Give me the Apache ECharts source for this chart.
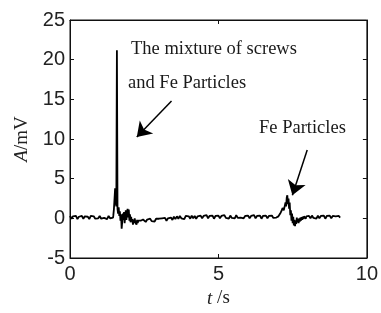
<!DOCTYPE html>
<html>
<head>
<meta charset="utf-8">
<script src="https://cdn.jsdelivr.net/npm/echarts@6/dist/echarts.min.js"></script>
<style>
  html, body { margin: 0; padding: 0; background: #fff; }
  #main { width: 381px; height: 313px; }
</style>
</head>
<body>
<div id="main"></div>
<script>
// 信号分段：起始时间(s)、采样间隔(s)、幅值(mV)
var quiet1Start = 0, quiet1Step = 0.05;
var quiet1Values = [0.3, -0.05, 0.25, 0.0, 0.3, -0.1, 0.2, 0.05, 0.3, -0.05,
  0.25, 0.0, 0.2, -0.1, 0.3, 0.05, 0.25, -0.05, 0.2, 0.0,
  0.3, -0.05, 0.2, 0.05, 0.25, -0.1, 0.3, 0.0, 0.25, 0.1];

// 螺钉+铁颗粒混合
var event1Start = 1.46, event1Step = 0.02;
var event1Values = [0.4, 1.2, 2.5, 3.8, 2.0, 1.5, 21.2, 1.2, 0.6, 1.4,
  0.3, 0.9, -0.3, 0.5, -1.3, -0.4, 0.6, -0.2, 0.8, -0.6,
  0.3, 1.0, -0.2, 0.7, 1.2, 0.1, 1.1, -0.3, 0.5, -0.5,
  0.2, -0.4, -0.1, -0.8, -0.2, -0.6, 0.0, -0.5, -0.3, -0.8,
  -0.2, -0.6, -0.3, -0.5, -0.2, -0.4, -0.3, -0.5, -0.2, -0.35,
  -0.15, -0.3];

var quiet2Start = 2.5, quiet2Step = 0.05;
var quiet2Values = [-0.1, -0.45, -0.15, -0.4, -0.05, -0.35, -0.1, -0.4, -0.05, -0.3,
  -0.05, -0.3, 0.0, -0.25, 0.05, -0.3, 0.0, -0.2, 0.1, -0.2,
  0.2, -0.1, 0.25, -0.05, 0.3, 0.0, 0.2, -0.1, 0.3, 0.05,
  0.25, -0.05, 0.35, 0.0, 0.3, -0.05, 0.25, 0.05, 0.35, 0.0,
  0.3, 0.05, 0.4, 0.0, 0.3, 0.1, 0.35, -0.05, 0.3, 0.05,
  0.35, 0.0, 0.3, 0.1, 0.4, 0.05, 0.3, -0.05, 0.35, 0.05,
  0.3, 0.0, 0.4, 0.05, 0.3, 0.1, 0.35, 0.0, 0.3, 0.05,
  0.35, 0.0, 0.3, 0.05, 0.4, 0.0, 0.3, 0.05, 0.35, -0.05,
  0.3, 0.05, 0.35, 0.0, 0.3, 0.1, 0.35, 0.05, 0.25, 0.1];

// 铁颗粒
var event2Start = 7.0, event2Step = 0.02;
var event2Values = [0.3, 0.25, 0.4, 0.5, 0.6, 0.8, 0.9, 1.1, 1.3, 1.4,
  1.0, 0.8, 1.2, 2.0, 1.5, 2.6, 2.9, 1.8, 2.5, 1.2,
  2.0, 0.4, 1.0, -0.3, 0.6, -0.6, 0.2, -0.9, -0.2, -1.0,
  -0.3, -0.7, 0.1, -0.5, -0.1, -0.6, 0.0, -0.4, 0.1, -0.3,
  0.15, -0.2, 0.2, -0.1, 0.25, 0.0, 0.2, -0.05, 0.25, 0.05,
  0.2];

var tailStart = 8.05, tailStep = 0.05;
var tailValues = [0.3, 0.0, 0.35, 0.05, 0.3, -0.05, 0.35, 0.0, 0.3, 0.1,
  0.35, -0.05, 0.3, 0.05, 0.35, 0.0, 0.3, 0.05, 0.25, 0.0,
  0.3, 0.1];

// 箭头 [起点, 终点] (t, mV)
var arrow1 = [[3.42, 14.8], [2.25, 10.25]];
var arrow2 = [[7.99, 8.6], [7.49, 2.9]];

var xTicks = [0, 5, 10];
var yTicks = [-5, 0, 5, 10, 15, 20, 25];

function seg(start, step, values) {
  return values.map(function (v, i) {
    return [+(start + i * step).toFixed(3), v];
  });
}

var signal = [].concat(
  seg(quiet1Start, quiet1Step, quiet1Values),
  seg(event1Start, event1Step, event1Values),
  seg(quiet2Start, quiet2Step, quiet2Values),
  seg(event2Start, event2Step, event2Values),
  seg(tailStart, tailStep, tailValues)
);

var myChart = echarts.init(document.getElementById('main'));

function tick() {
  return { show: true, inside: true, length: 4, lineStyle: { color: '#111', width: 1 } };
}
function line(show) {
  return { show: show, onZero: false, lineStyle: { color: '#111', width: 1 } };
}
var tickFont = { fontFamily: '"Liberation Sans", Arial', fontSize: 20, color: '#222' };
var serif = '"Liberation Serif", "Times New Roman"';
var nameStyle = {
  fontFamily: serif, fontSize: 19, color: '#222',
  rich: { i: { fontFamily: serif, fontSize: 19, fontStyle: 'italic', color: '#222' } }
};
var noteFont = '18.5px "Liberation Serif"';

myChart.setOption({
  animation: false,
  grid: { left: 70, right: 12, top: 20, bottom: 52, show: true, borderColor: '#111', borderWidth: 1 },
  xAxis: [{
    type: 'value',
    position: 'bottom',
    min: xTicks[0],
    max: xTicks[xTicks.length - 1],
    interval: 5,
    axisLine: line(true),
    axisTick: tick(),
    splitLine: { show: false },
    axisLabel: Object.assign({ margin: 6 }, tickFont),
    name: '{i|t} /s',
    nameLocation: 'middle',
    nameGap: 31,
    nameTextStyle: nameStyle
  }, {
    type: 'value',
    position: 'top',
    min: 0, max: 10, interval: 5,
    axisLine: line(true),
    axisTick: tick(),
    axisLabel: { show: false },
    splitLine: { show: false }
  }],
  yAxis: [{
    type: 'value',
    position: 'left',
    min: yTicks[0],
    max: yTicks[yTicks.length - 1],
    interval: 5,
    axisLine: line(true),
    axisTick: tick(),
    splitLine: { show: false },
    axisLabel: Object.assign({ margin: 5 }, tickFont),
    name: '{i|A}/mV',
    nameLocation: 'middle',
    nameGap: 38,
    nameTextStyle: nameStyle
  }, {
    type: 'value',
    position: 'right',
    min: -5, max: 25, interval: 5,
    axisLine: line(true),
    axisTick: tick(),
    axisLabel: { show: false },
    splitLine: { show: false }
  }],
  graphic: [
    { type: 'text', left: 131, top: 40, silent: true,
      style: { text: 'The mixture of screws', font: noteFont, fill: '#1a1a1a' } },
    { type: 'text', left: 128, top: 74, silent: true,
      style: { text: 'and Fe Particles', font: noteFont, fill: '#1a1a1a' } },
    { type: 'text', left: 259, top: 119, silent: true,
      style: { text: 'Fe Particles', font: noteFont, fill: '#1a1a1a' } }
  ],
  series: [{
    type: 'line',
    xAxisIndex: 0,
    yAxisIndex: 0,
    data: signal,
    showSymbol: false,
    silent: true,
    lineStyle: { color: '#000', width: 1.8 },
    markLine: {
      silent: true,
      symbol: ['none', 'arrow'],
      symbolSize: 14,
      label: { show: false },
      lineStyle: { type: 'solid', color: '#000', width: 1.5 },
      data: [
        [{ coord: arrow1[0] }, { coord: arrow1[1] }],
        [{ coord: arrow2[0] }, { coord: arrow2[1] }]
      ]
    }
  }]
});
</script>
</body>
</html>
